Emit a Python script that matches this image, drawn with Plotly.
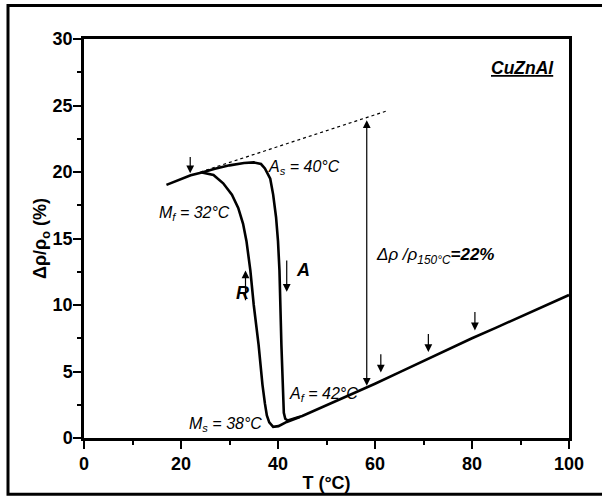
import plotly.graph_objects as go

# ---- data ----
heat_T = [17.0, 20.0, 22.0, 24.3, 27.0, 30.0, 33.0, 35.0, 36.5, 37.3, 38.4, 39.0, 39.6, 40.0,
          40.3, 40.7, 41.0, 41.2, 41.5, 42.0, 45.0, 50.0, 55.0, 60.0, 65.0, 70.0, 75.0,
          80.0, 85.0, 90.0, 95.0, 100.0]
heat_R = [19.03, 19.45, 19.75, 19.97, 20.25, 20.5, 20.68, 20.72, 20.6, 20.27, 19.5, 18.3, 16.6, 14.8,
          12.6, 7.0, 3.0, 1.9, 1.45, 1.32, 1.66, 2.45, 3.25, 4.08, 4.93, 5.8, 6.65,
          7.5, 8.3, 9.12, 9.95, 10.75]

cool_T = [44.5, 41.8, 40.1, 39.0, 38.2, 37.7, 37.3, 36.8, 36.0, 35.0, 34.3, 33.5, 32.8, 31.8,
          30.5, 28.7, 26.7, 24.3]
cool_R = [1.58, 1.21, 0.89, 0.84, 1.17, 1.7, 2.6, 4.0, 7.0, 10.0, 12.6, 14.8, 16.1, 17.3,
          18.3, 19.15, 19.77, 19.97]

extrap_T = [24.0, 62.5]
extrap_R = [20.0, 24.6]

# marker arrows (down-pointing): x, tail y, tip y
mark_T = [21.9, 61.2, 71.0, 80.6]
mark_tail = [21.25, 6.41, 7.94, 9.58]
mark_tip = [19.9, 4.92, 6.46, 8.09]

# total change arrow
delta_T = 58.3
delta_lo = 3.81
delta_hi = 23.9

x_ticks = [0, 20, 40, 60, 80, 100]
y_ticks = [0, 5, 10, 15, 20, 25, 30]

FONT = "Liberation Sans, Arial, sans-serif"

fig = go.Figure()
fig.add_trace(go.Scatter(x=extrap_T, y=extrap_R, mode="lines",
                         line=dict(color="black", width=1.2, dash="dot"), hoverinfo="skip"))
fig.add_trace(go.Scatter(x=heat_T, y=heat_R, mode="lines",
                         line=dict(color="black", width=2.6), hoverinfo="skip"))
fig.add_trace(go.Scatter(x=cool_T, y=cool_R, mode="lines",
                         line=dict(color="black", width=2.6), hoverinfo="skip"))

annots = []
for t, a, b in zip(mark_T, mark_tail, mark_tip):
    annots.append(dict(x=t, y=b, ax=t, ay=a, xref="x", yref="y", axref="x", ayref="y",
                       showarrow=True, arrowhead=2, arrowsize=1.3, arrowwidth=1.2,
                       arrowcolor="black", text=""))
annots.append(dict(x=delta_T, y=delta_hi, ax=delta_T, ay=delta_lo, xref="x", yref="y",
                   axref="x", ayref="y", showarrow=True, arrowhead=2, startarrowhead=2,
                   arrowside="end+start", arrowsize=1.3, startarrowsize=1.3, arrowwidth=1.2,
                   arrowcolor="black", text=""))
# A (heating) arrow and R (cooling) arrow
annots.append(dict(x=41.8, y=11.0, ax=41.8, ay=13.46, xref="x", yref="y", axref="x", ayref="y",
                   showarrow=True, arrowhead=2, arrowsize=1.3, arrowwidth=1.2,
                   arrowcolor="black", text=""))
annots.append(dict(x=33.3, y=12.6, ax=33.3, ay=10.25, xref="x", yref="y", axref="x", ayref="y",
                   showarrow=True, arrowhead=2, arrowsize=1.3, arrowwidth=1.2,
                   arrowcolor="black", text=""))

def label(x, y, text, size=16, xanchor="left"):
    annots.append(dict(x=x, y=y, xref="x", yref="y", text=text, showarrow=False,
                       xanchor=xanchor, yanchor="middle",
                       font=dict(family=FONT, size=size, color="black")))

label(37.6, 20.35, "<i>A<sub>s</sub> = 40°C</i>")
label(15.0, 16.85, "<i>M<sub>f</sub> = 32°C</i>")
label(21.2, 1.05, "<i>M<sub>s</sub> = 38°C</i>")
label(41.8, 3.3, "<i>A<sub>f</sub> = 42°C</i>")
label(59.7, 13.7, "<i>Δρ /ρ<sub>150°C</sub></i><b><i>=22%</i></b>", size=17)
label(43.3, 12.6, "<b><i>A</i></b>", size=18)
label(30.9, 10.9, "<b><i>R</i></b>", size=18)
label(97.3, 27.85, "<b><i><u>CuZnAl</u></i></b>", size=17.5, xanchor="right")

axis_common = dict(showline=True, linecolor="black", linewidth=2.5, mirror=True,
                   ticks="outside", tickcolor="black", tickwidth=2, ticklen=8,
                   showgrid=False, zeroline=False,
                   tickfont=dict(family=FONT, size=18, color="black", weight="bold"))

fig.update_layout(
    width=602, height=503,
    margin=dict(l=84, r=33, t=39, b=60),
    paper_bgcolor="white", plot_bgcolor="white",
    showlegend=False,
    annotations=annots,
    font=dict(family=FONT),
    xaxis=dict(range=[0, 100], tickvals=x_ticks, **axis_common,
               minor=dict(dtick=10, ticks="outside", ticklen=4, tickwidth=2, tickcolor="black"),
               title=dict(text="T (°C)", standoff=4,
                          font=dict(family=FONT, size=18, color="black", weight="bold"))),
    yaxis=dict(range=[0, 30], tickvals=y_ticks, **axis_common, ticklabelstandoff=-3,
               minor=dict(dtick=2.5, ticks="outside", ticklen=4, tickwidth=2, tickcolor="black"),
               title=dict(text="Δρ/ρ<sub>o</sub> (%)", standoff=0,
                          font=dict(family=FONT, size=18, color="black", weight="bold"))),
    shapes=[dict(type="rect", xref="paper", yref="paper",
                 x0=-0.1567, x1=1.09, y0=-0.1411, y1=1.0842,
                 line=dict(color="black", width=3), layer="above")],
)

fig.write_html("out.html")
